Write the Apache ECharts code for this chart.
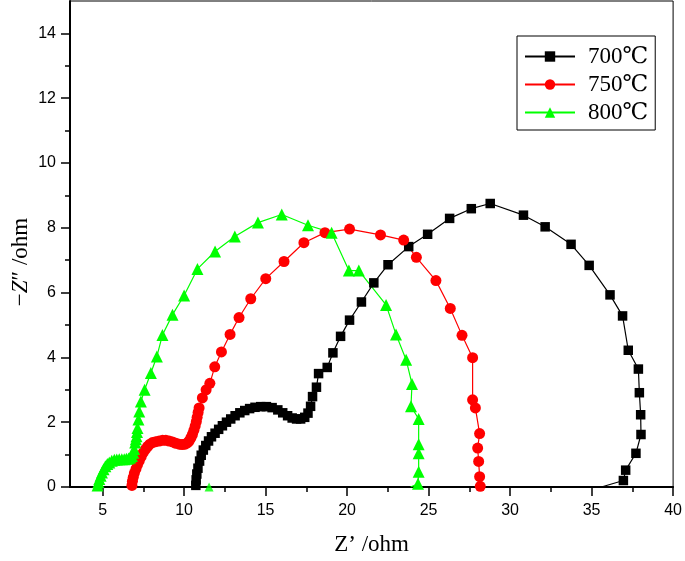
<!DOCTYPE html>
<html>
<head>
<meta charset="utf-8">
<script src="https://cdn.jsdelivr.net/npm/echarts@6/dist/echarts.min.js"></script>
<style>html,body{margin:0;padding:0;background:#fff}#c{width:685px;height:561px}</style>
</head>
<body>
<div id="c"></div>
<script>
var seriesNames = ['700℃', '750℃', '800℃'];
var xMajorTicks = [5, 10, 15, 20, 25, 30, 35, 40];
var xMinorTicks = [7.5, 12.5, 17.5, 22.5, 27.5, 32.5, 37.5];
var yMajorTicks = [0, 2, 4, 6, 8, 10, 12, 14];
var yMinorTicks = [1, 3, 5, 7, 9, 11, 13];

var data700 = [[10.72,0.05],[10.74,0.22],[10.78,0.40],[10.85,0.58],[10.95,0.80],[11.05,0.98],[11.18,1.14],[11.33,1.28],[11.5,1.42],[11.68,1.55],[11.9,1.66],[12.12,1.78],[12.35,1.89],[12.6,2.0],[12.86,2.1],[13.13,2.2],[13.42,2.29],[13.72,2.36],[14.02,2.42],[14.35,2.46],[14.7,2.48],[15.05,2.48],[15.4,2.45],[15.75,2.38],[16.05,2.29],[16.35,2.2],[16.63,2.13],[16.9,2.1],[17.15,2.1],[17.4,2.15],[17.6,2.28],[17.76,2.49],[17.88,2.79],[18.12,3.08],[18.25,3.5],[18.78,3.69],[19.13,4.14],[19.6,4.65],[20.15,5.15],[20.88,5.71],[21.64,6.30],[22.51,6.86],[23.78,7.42],[24.94,7.80],[26.29,8.29],[27.62,8.59],[28.78,8.75],[30.82,8.39],[32.15,8.03],[33.74,7.49],[34.85,6.84],[36.13,5.93],[36.90,5.28],[37.25,4.22],[37.87,3.64],[37.93,2.91],[38.01,2.23],[38.03,1.62],[37.72,1.04],[37.09,0.52],[36.95,0.20]];
var tail700 = [[35.6,0],[34.8,0]];
var data750 = [[6.80,0.05],[6.83,0.18],[6.88,0.30],[6.95,0.43],[7.05,0.56],[7.14,0.69],[7.25,0.81],[7.37,0.94],[7.49,1.06],[7.62,1.16],[7.76,1.25],[7.9,1.32],[8.06,1.37],[8.26,1.40],[8.47,1.42],[8.68,1.44],[8.88,1.44],[9.08,1.42],[9.29,1.39],[9.5,1.35],[9.70,1.32],[9.88,1.31],[10.06,1.32],[10.2,1.36],[10.31,1.42],[10.42,1.52],[10.51,1.62],[10.6,1.75],[10.68,1.88],[10.75,2.02],[10.80,2.15],[10.86,2.3],[10.92,2.44],[11.12,2.75],[11.35,3.0],[11.58,3.2],[11.88,3.71],[12.29,4.17],[12.82,4.71],[13.37,5.23],[14.09,5.81],[15.01,6.43],[16.13,6.96],[17.35,7.54],[18.64,7.85],[20.15,7.96],[22.05,7.78],[23.47,7.62],[24.25,7.09],[25.45,6.37],[26.33,5.51],[27.05,4.68],[27.70,3.99],[27.70,2.69],[27.87,2.44],[28.13,1.65],[28.01,1.20],[28.07,0.79],[28.13,0.32],[28.17,0.02]];
var data800 = [[4.69,0.05],[4.74,0.15],[4.80,0.25],[4.88,0.35],[4.96,0.45],[5.06,0.55],[5.17,0.64],[5.29,0.71],[5.41,0.76],[5.56,0.81],[5.72,0.84],[5.87,0.85],[6.02,0.86],[6.18,0.86],[6.33,0.86],[6.46,0.87],[6.59,0.88],[6.70,0.91],[6.80,0.96],[6.88,1.06],[6.94,1.17],[7.00,1.37],[7.04,1.47],[7.08,1.57],[7.11,1.70],[7.14,1.82],[7.20,2.08],[7.25,2.33],[7.35,2.64],[7.58,3.0],[7.96,3.52],[8.33,4.03],[8.67,4.69],[9.29,5.32],[10.0,5.91],[10.82,6.73],[11.90,7.27],[13.11,7.73],[14.53,8.16],[15.99,8.41],[17.60,8.08],[19.05,7.85],[20.11,6.68],[20.72,6.68],[22.39,5.62],[23.00,4.71],[23.62,3.93],[23.98,3.18],[23.92,2.49],[24.39,2.10],[24.39,1.32],[24.39,1.04],[24.39,0.47],[24.35,0.10]];
var tail800 = [[23.9,0]];
var stray800 = [[11.53,0]];

var colors = ['#000000', '#ff0000', '#00ff00'];

function withTail(arr, tail) {
  return arr.map(function (p) { return p; }).concat(tail.map(function (p) {
    return { value: p, symbol: 'none' };
  }));
}

var chart = echarts.init(document.getElementById('c'), null, { renderer: 'canvas' });
var labelFont = { fontFamily: 'Liberation Sans, Arial, sans-serif', fontSize: 16, color: '#000' };
var serif = 'Liberation Serif, DejaVu Serif, Times New Roman, serif';

var option = {
  animation: false,
  backgroundColor: '#fff',
  grid: { left: 70, right: 10, top: 1, bottom: 69.5, show: true, borderColor: '#000', borderWidth: 1, backgroundColor: 'transparent' },
  legend: {
    data: seriesNames,
    orient: 'vertical',
    left: 517, top: 36,
    padding: [9, 7, 6, 7],
    itemGap: 5,
    itemWidth: 50,
    itemHeight: 13,
    borderColor: '#000', borderWidth: 1,
    textStyle: { fontFamily: serif, fontSize: 23, color: '#000', lineHeight: 22, padding: [0, 0, 0, 8] }
  },
  xAxis: [{
    type: 'value', min: 3, max: 40, position: 'bottom',
    name: 'Z’ /ohm', nameLocation: 'middle', nameGap: 46,
    nameTextStyle: { fontFamily: serif, fontSize: 23, color: '#000' },
    axisLine: { show: true, lineStyle: { color: '#000', width: 2 } },
    axisTick: { show: true, customValues: xMajorTicks, length: 9, lineStyle: { color: '#000', width: 1.5 } },
    axisLabel: Object.assign({ customValues: xMajorTicks, margin: 16 }, labelFont),
    splitLine: { show: false }
  }, {
    type: 'value', min: 3, max: 40, position: 'bottom',
    axisLine: { show: false },
    axisTick: { show: true, customValues: xMinorTicks, length: 5, lineStyle: { color: '#000', width: 1.5 } },
    axisLabel: { show: false },
    splitLine: { show: false }
  }],
  yAxis: [{
    type: 'value', min: 0, max: 15, position: 'left',
    axisLine: { show: true, lineStyle: { color: '#000', width: 2 } },
    axisTick: { show: true, customValues: yMajorTicks, length: 9, lineStyle: { color: '#000', width: 1.5 } },
    axisLabel: Object.assign({ customValues: yMajorTicks, margin: 14 }, labelFont),
    splitLine: { show: false }
  }, {
    type: 'value', min: 0, max: 15, position: 'left',
    axisLine: { show: false },
    axisTick: { show: true, customValues: yMinorTicks, length: 5, lineStyle: { color: '#000', width: 1.5 } },
    axisLabel: { show: false },
    splitLine: { show: false }
  }],
  graphic: [{
    type: 'text', x: 21, y: 262, rotation: Math.PI / 2,
    style: {
      text: '−{i|Z}″ /ohm',
      font: '23px "Liberation Serif", serif',
      fill: '#000',
      align: 'center', verticalAlign: 'middle',
      rich: { i: { fontStyle: 'italic', fontFamily: 'Liberation Serif', fontSize: 23, fill: '#000' } }
    }
  }],
  series: [{
    name: seriesNames[0], type: 'line', xAxisIndex: 0, yAxisIndex: 0,
    data: withTail(data700, tail700),
    symbol: 'rect', symbolSize: 9.5,
    itemStyle: { color: colors[0] },
    lineStyle: { color: colors[0], width: 1.2 }
  }, {
    name: seriesNames[1], type: 'line', xAxisIndex: 0, yAxisIndex: 0,
    data: data750,
    symbol: 'circle', symbolSize: 11,
    itemStyle: { color: colors[1] },
    lineStyle: { color: colors[1], width: 1.2 }
  }, {
    name: seriesNames[2], type: 'line', xAxisIndex: 0, yAxisIndex: 0,
    data: withTail(data800, tail800),
    symbol: 'triangle', symbolSize: 12,
    itemStyle: { color: colors[2] },
    lineStyle: { color: colors[2], width: 1.2 }
  }, {
    name: 'stray800', type: 'scatter', xAxisIndex: 0, yAxisIndex: 0,
    data: stray800,
    symbol: 'triangle', symbolSize: 9,
    itemStyle: { color: colors[2] }
  }]
};
chart.setOption(option);
</script>
</body>
</html>
